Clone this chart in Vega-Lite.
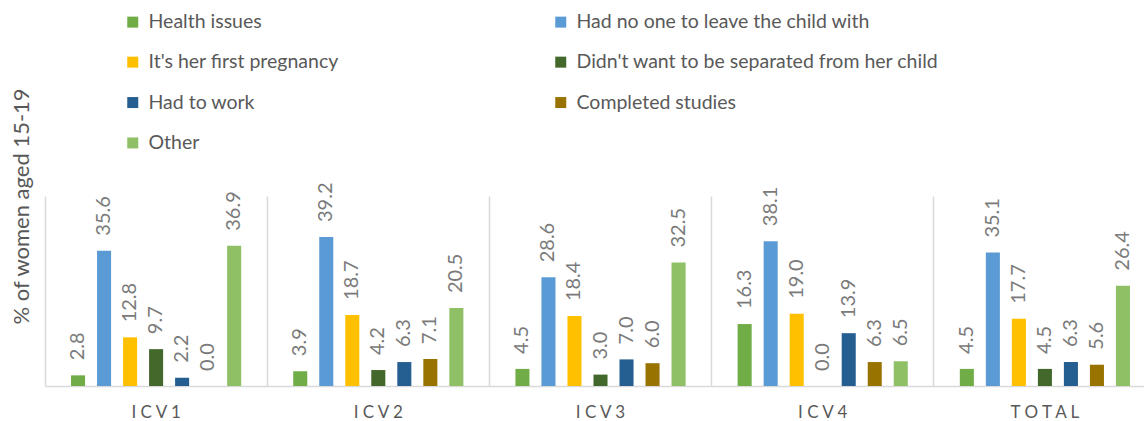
{
  "$schema": "https://vega.github.io/schema/vega-lite/v6.json",
  "width": 1099,
  "height": 190,
  "autosize": {"type": "none"},
  "padding": {"left": 45, "top": 196, "right": 0, "bottom": 35},
  "background": "white",
  "config": {
    "view": {"stroke": null},
    "font": "Lato",
    "axis": {"labelFont": "Lato", "titleFont": "Lato"},
    "legend": {"labelFont": "Lato"}
  },
  "data": {
    "values": [
      {"group": "ICV1", "reason": "Health issues", "value": 2.8},
      {"group": "ICV1", "reason": "Had no one to leave the child with", "value": 35.6},
      {"group": "ICV1", "reason": "It's her first pregnancy", "value": 12.8},
      {"group": "ICV1", "reason": "Didn't want to be separated from her child", "value": 9.7},
      {"group": "ICV1", "reason": "Had to work", "value": 2.2},
      {"group": "ICV1", "reason": "Completed studies", "value": 0.0},
      {"group": "ICV1", "reason": "Other", "value": 36.9},
      {"group": "ICV2", "reason": "Health issues", "value": 3.9},
      {"group": "ICV2", "reason": "Had no one to leave the child with", "value": 39.2},
      {"group": "ICV2", "reason": "It's her first pregnancy", "value": 18.7},
      {"group": "ICV2", "reason": "Didn't want to be separated from her child", "value": 4.2},
      {"group": "ICV2", "reason": "Had to work", "value": 6.3},
      {"group": "ICV2", "reason": "Completed studies", "value": 7.1},
      {"group": "ICV2", "reason": "Other", "value": 20.5},
      {"group": "ICV3", "reason": "Health issues", "value": 4.5},
      {"group": "ICV3", "reason": "Had no one to leave the child with", "value": 28.6},
      {"group": "ICV3", "reason": "It's her first pregnancy", "value": 18.4},
      {"group": "ICV3", "reason": "Didn't want to be separated from her child", "value": 3.0},
      {"group": "ICV3", "reason": "Had to work", "value": 7.0},
      {"group": "ICV3", "reason": "Completed studies", "value": 6.0},
      {"group": "ICV3", "reason": "Other", "value": 32.5},
      {"group": "ICV4", "reason": "Health issues", "value": 16.3},
      {"group": "ICV4", "reason": "Had no one to leave the child with", "value": 38.1},
      {"group": "ICV4", "reason": "It's her first pregnancy", "value": 19.0},
      {"group": "ICV4", "reason": "Didn't want to be separated from her child", "value": 0.0},
      {"group": "ICV4", "reason": "Had to work", "value": 13.9},
      {"group": "ICV4", "reason": "Completed studies", "value": 6.3},
      {"group": "ICV4", "reason": "Other", "value": 6.5},
      {"group": "TOTAL", "reason": "Health issues", "value": 4.5},
      {"group": "TOTAL", "reason": "Had no one to leave the child with", "value": 35.1},
      {"group": "TOTAL", "reason": "It's her first pregnancy", "value": 17.7},
      {"group": "TOTAL", "reason": "Didn't want to be separated from her child", "value": 4.5},
      {"group": "TOTAL", "reason": "Had to work", "value": 6.3},
      {"group": "TOTAL", "reason": "Completed studies", "value": 5.6},
      {"group": "TOTAL", "reason": "Other", "value": 26.4}
    ]
  },
  "encoding": {
    "x": {
      "field": "group",
      "type": "nominal",
      "sort": ["ICV1", "ICV2", "ICV3", "ICV4", "TOTAL"],
      "scale": {"range": [0, 1111], "paddingInner": 0, "paddingOuter": 0},
      "axis": {
        "title": null,
        "labelAngle": 0,
        "labelFontSize": 17,
        "labelColor": "#595959",
        "labelPadding": 18,
        "labelExpr": "join(split(datum.label, ''), ' ')",
        "ticks": false,
        "domainColor": "#d9d9d9",
        "domainWidth": 1.5,
        "grid": true,
        "bandPosition": 0,
        "gridColor": "#d9d9d9",
        "gridWidth": 1.5
      }
    },
    "xOffset": {
      "field": "reason",
      "type": "nominal",
      "sort": ["Health issues", "Had no one to leave the child with", "It's her first pregnancy", "Didn't want to be separated from her child", "Had to work", "Completed studies", "Other"],
      "scale": {"paddingInner": 0.46, "paddingOuter": 1.12}
    },
    "y": {
      "field": "value",
      "type": "quantitative",
      "scale": {"domain": [0, 50]},
      "axis": {
        "title": "% of women aged 15-19",
        "titleFontSize": 22,
        "titleFontWeight": "normal",
        "titleColor": "#595959",
        "titleX": -24,
        "titleY": 10,
        "titleBaseline": "middle",
        "titleAlign": "center",
        "titleAngle": 270,
        "labels": false,
        "ticks": false,
        "domain": false,
        "grid": false
      }
    }
  },
  "layer": [
    {
      "mark": {"type": "bar"},
      "encoding": {
        "color": {
          "field": "reason",
          "type": "nominal",
          "scale": {
            "domain": ["Health issues", "It's her first pregnancy", "Had to work", "Other", "Had no one to leave the child with", "Didn't want to be separated from her child", "Completed studies"],
            "range": ["#70ad47", "#ffc000", "#255e91", "#8fc066", "#5b9bd5", "#43682b", "#997300"]
          },
          "legend": {
            "title": null,
            "orient": "none",
            "legendX": 78,
            "legendY": -184,
            "columns": 2,
            "columnPadding": 212,
            "rowPadding": 19.4,
            "symbolType": "square",
            "symbolSize": 121,
            "symbolStrokeWidth": 0,
            "labelFontSize": 19.5,
            "labelColor": "#595959",
            "labelOffset": 6,
            "labelLimit": 500
          }
        }
      }
    },
    {
      "mark": {"type": "text", "angle": 270, "align": "left", "baseline": "middle", "dx": 15, "fontSize": 20, "color": "#7a7a7a"},
      "encoding": {
        "text": {"field": "value", "type": "quantitative", "format": ".1f"}
      }
    }
  ]
}
